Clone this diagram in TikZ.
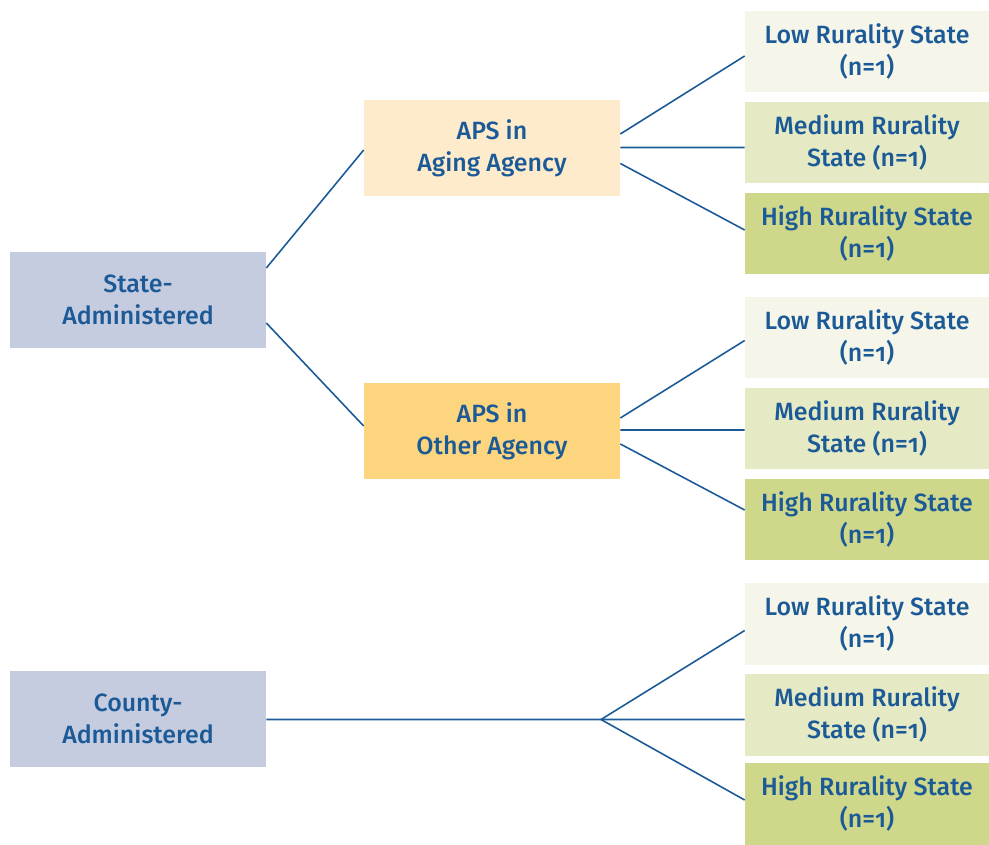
\documentclass[tikz,border=0pt]{standalone}
\usepackage{fontspec}
\setmainfont{Fira Sans}[Numbers=OldStyle,BoldFont={Fira Sans Medium},
    BoldFeatures={RawFeature=+onum}]
\usepackage{xcolor}

\definecolor{ink}{HTML}{1B5A96}
\definecolor{adminfill}{HTML}{C6CCDF}
\definecolor{agingfill}{HTML}{FDEBCC}
\definecolor{otherfill}{HTML}{FDD57E}
\definecolor{lowfill}{HTML}{F5F5EA}
\definecolor{medfill}{HTML}{E5EAC5}
\definecolor{highfill}{HTML}{CFD78B}

\begin{document}
\begin{tikzpicture}[x=0.02cm,y=-0.02cm,
        box/.style={text=ink,font=\fontsize{14.2}{18.3}\selectfont\bfseries,
            align=center,inner sep=0pt},
        bigbox/.style={box,minimum width=5.12cm,minimum height=1.92cm},
        statebox/.style={box,minimum width=4.88cm,minimum height=1.64cm},
        link/.style={draw=ink,line width=0.9pt}]
        \useasboundingbox (0,0) rectangle (989,844);
        % left column
        \node[bigbox,fill=adminfill](state) at (138,300) {State-\\Administered};
        \node[bigbox,fill=adminfill](county) at (138,719) {County-\\Administered};
        % middle column
        \node[bigbox,fill=agingfill](aging) at (492,148) {APS in\\Aging Agency};
        \node[bigbox,fill=otherfill](other) at (492,431) {APS in\\Other Agency};
        % right column
        \node[statebox,fill=lowfill](low1) at (867,51.5) {Low Rurality State\\(n=1)};
        \node[statebox,fill=medfill](med1) at (867,142.5) {Medium Rurality\\State (n=1)};
        \node[statebox,fill=highfill](high1) at (867,233.5) {High Rurality State\\(n=1)};
        \node[statebox,fill=lowfill](low2) at (867,337.5) {Low Rurality State\\(n=1)};
        \node[statebox,fill=medfill](med2) at (867,428.5) {Medium Rurality\\State (n=1)};
        \node[statebox,fill=highfill](high2) at (867,519.5) {High Rurality State\\(n=1)};
        \node[statebox,fill=lowfill](low3) at (867,623.5) {Low Rurality State\\(n=1)};
        \node[statebox,fill=medfill](med3) at (867,714.5) {Medium Rurality\\State (n=1)};
        \node[statebox,fill=highfill](high3) at (867,803.5) {High Rurality State\\(n=1)};
        \coordinate(split) at (601,719.5);
        % branches
        \draw[link]([yshift=0.64cm]state.east)--([yshift=-0.04cm]aging.west);
        \draw[link]([yshift=-0.46cm]state.east)--([yshift=0.1cm]other.west);
        \draw[link]([yshift=0.28cm]aging.east)--([yshift=-0.09cm]low1.west);
        \draw[link]([yshift=0.01cm]aging.east)--([yshift=-0.1cm]med1.west);
        \draw[link]([yshift=-0.31cm]aging.east)--([yshift=0.07cm]high1.west);
        \draw[link]([yshift=0.26cm]other.east)--([yshift=-0.06cm]low2.west);
        \draw[link]([yshift=0.02cm]other.east)--([yshift=-0.03cm]med2.west);
        \draw[link]([yshift=-0.26cm]other.east)--([yshift=0.19cm]high2.west);
        \draw[link]([yshift=-0.01cm]county.east)--(split);
        \draw[link](split)--([yshift=-0.14cm]low3.west);
        \draw[link](split)--([yshift=-0.1cm]med3.west);
        \draw[link](split)--([yshift=0.07cm]high3.west);
\end{tikzpicture}
\end{document}
